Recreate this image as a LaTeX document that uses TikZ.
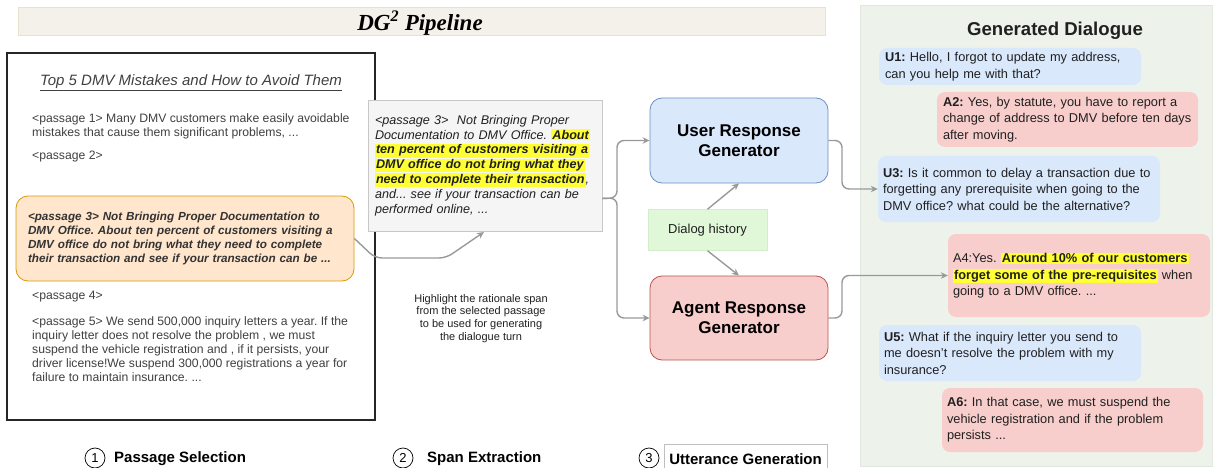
\documentclass[tikz,border=0pt]{standalone}
\usepackage{fontspec}
\setmainfont{Liberation Sans}
\newfontfamily\serifbi{Liberation Serif}
\usetikzlibrary{arrows.meta,calc,shadows}
\definecolor{txtgray}{HTML}{404040}
\definecolor{dtxt}{HTML}{202020}
\definecolor{arrgray}{HTML}{999999}
\definecolor{ublue}{HTML}{DAE8FC}
\definecolor{ubord}{HTML}{6C8EBF}
\definecolor{apink}{HTML}{F8CECC}
\definecolor{abord}{HTML}{B85450}
\definecolor{ofill}{HTML}{FFE6CC}
\definecolor{obord}{HTML}{D79B00}
\definecolor{sfill}{HTML}{F5F5F5}
\definecolor{sbord}{HTML}{C8C8C8}
\definecolor{hfill}{HTML}{E1F8D8}
\definecolor{hbord}{HTML}{D2EEC8}
\definecolor{pfill}{HTML}{EDF3EB}
\definecolor{pbord}{HTML}{E2E8E0}
\definecolor{tfill}{HTML}{F4F1EA}
\definecolor{tbord}{HTML}{EAE2CA}
\definecolor{hlyellow}{HTML}{FFFF33}
\newcommand\hlbox[1]{{\setlength{\fboxsep}{1pt}\colorbox{hlyellow}{#1}}}
\frenchspacing
\tikzset{
  passtxt/.style={anchor=north west, align=left, inner sep=0pt, text=txtgray, font=\fontsize{12.2}{14}\selectfont},
  arr/.style={draw=arrgray, line width=1.4pt, -{Stealth[length=7pt,width=6.5pt]}, rounded corners=7pt},
  bubbleU/.style={fill=ublue, rounded corners=8pt, align=left, inner xsep=6pt, inner ysep=0pt, font=\fontsize{12.8}{16.5}\selectfont, text=dtxt},
  bubbleA/.style={bubbleU, fill=apink},
  gen/.style={rounded corners=12pt, line width=0.8pt, align=center, inner sep=0pt, font=\bfseries\fontsize{17}{20}\selectfont, text=black},
  stepnum/.style={circle, draw=black, line width=0.7pt, minimum size=20pt, inner sep=0pt, font=\fontsize{13}{13}\selectfont},
  steplbl/.style={anchor=west, inner sep=0pt, font=\bfseries\fontsize{15}{15}\selectfont, text=black},
}
\begin{document}
\begin{tikzpicture}[x=1pt,y=-1pt]
\useasboundingbox (0,0) rectangle (1213,468);

% title bar
\node[fill=tfill, draw=tbord, line width=0.8pt, minimum width=807pt, minimum height=28pt,
      drop shadow={opacity=0.18, shadow xshift=1pt, shadow yshift=-1.5pt}] (title) at (421.5,21) {};
\node[inner sep=0pt, font=\serifbi\bfseries\itshape\fontsize{23}{26}\selectfont] (titletxt) at (420,23) {DG\textsuperscript{2} Pipeline};

% right panel
\node[fill=pfill, draw=pbord, line width=0.6pt, minimum width=352pt, minimum height=461pt] (panel) at (1036.5,236) {};
\node[inner sep=0pt, font=\bfseries\fontsize{18.6}{20}\selectfont, text=dtxt] (gdtitle) at (1055,31) {Generated Dialogue};

% document box
\node[draw=black!85, line width=2pt, minimum width=368pt, minimum height=367pt] (doc) at (191,236.5) {};
\node[inner sep=0pt, text=txtgray, font=\itshape\fontsize{15}{16}\selectfont] (doctitle) at (191,83) {\underline{Top 5 DMV Mistakes and How to Avoid Them}};
\node[passtxt] (pass1) at (32,113) {<passage 1> Many DMV customers make easily avoidable\\mistakes that cause them significant problems, ...};
\node[passtxt] (pass2) at (32,151) {<passage 2>};
\node[fill=ofill, draw=obord, line width=0.8pt, rounded corners=12pt, minimum height=85pt,
      text width=320pt, inner xsep=9pt, inner ysep=0pt, align=left, text=black!80,
      font=\bfseries\itshape\fontsize{11.7}{14}\selectfont] (p3) at (185,238.5)
  {\hspace*{3pt}<passage 3> Not Bringing Proper Documentation to\\\hspace*{3pt}DMV Office. About ten percent of customers visiting a\\\hspace*{3pt}DMV office do not bring what they need to complete\\\hspace*{3pt}their transaction and see if your transaction can be ...};
\node[passtxt] (pass4) at (32,291) {<passage 4>};
\node[passtxt] (pass5) at (32,316) {<passage 5> We send 500,000 inquiry letters a year. If the\\inquiry letter does not resolve the problem , we must\\suspend the vehicle registration and , if it persists, your\\driver license!We suspend 300,000 registrations a year for\\failure to maintain insurance. ...};

% span box
\node[fill=sfill, draw=sbord, line width=0.8pt, minimum height=131pt, text width=220pt,
      inner xsep=7pt, inner ysep=0pt, align=left, text=dtxt,
      font=\itshape\fontsize{12.6}{14.8}\selectfont] (span) at (485,165.5)
  {<passage 3>~ Not Bringing Proper\\
   Documentation to DMV Office. \hlbox{\bfseries About}\\
   \hlbox{\bfseries ten percent of customers visiting a}\\
   \hlbox{\bfseries DMV office do not bring what they}\\
   \hlbox{\bfseries need to complete their transaction},\\
   and... see if your transaction can be\\
   performed online, ...};
\node[inner sep=0pt, align=center, text=dtxt, font=\fontsize{11}{12.8}\selectfont] (hint) at (481,318.5)
  {Highlight the rationale span\\from the selected passage\\to be used for generating\\the dialogue turn};

% generators
\node[gen, fill=ublue, draw=ubord, minimum width=178pt, minimum height=85pt] (user) at (739,140.5) {User Response\\Generator};
\node[gen, fill=apink, draw=abord, minimum width=178pt, minimum height=84pt] (agent) at (739,318) {Agent Response\\Generator};
\node[fill=hfill, draw=hbord, line width=0.5pt, minimum width=119pt, minimum height=41pt, inner sep=0pt,
      text=dtxt, font=\fontsize{13}{14}\selectfont] (hist) at (707.5,230) {Dialog history};

% dialogue bubbles
\node[bubbleU, minimum height=37pt, text width=250pt] (u1) at (1010,66.5)
  {\textbf{U1:} Hello, I forgot to update my address,\\can you help me with that?};
\node[bubbleA, minimum height=55pt, text width=249pt] (a2) at (1067.5,119.5)
  {\textbf{A2:} Yes, by statute, you have to report a\\change of address to DMV before ten days\\after moving.};
\node[bubbleU, minimum height=66pt, inner xsep=5pt, text width=272pt] (u3) at (1019,189)
  {\textbf{U3:} Is it common to delay a transaction due to\\forgetting any prerequisite when going to the\\DMV office? what could be the alternative?};
\node[bubbleA, minimum height=83pt, inner xsep=5pt, text width=252pt] (a4) at (1079,275.5)
  {A4:Yes. \hlbox{\bfseries Around 10\% of our customers}\\\hlbox{\bfseries forget some of the pre-requisites} when\\going to a DMV office. ...};
\node[bubbleU, minimum height=56pt, inner xsep=5pt, text width=252pt] (u5) at (1010,353)
  {\textbf{U5:} What if the inquiry letter you send to\\me doesn't resolve the problem with my\\insurance?};
\node[bubbleA, minimum height=64pt, inner xsep=5pt, text width=251pt] (a6) at (1072.5,420)
  {\textbf{A6:} In that case, we must suspend the\\vehicle registration and if the problem\\persists ...};

% connectors
\coordinate (c1) at (375,258);
\coordinate (c2) at (446,258);
\coordinate (spanin) at (484,232);
\draw[arr] (p3.east) -- (c1) -- (c2) -- (spanin);

\coordinate (spanout) at ($(span.south east)!0.25!(span.north east)$);
\coordinate (fork) at (617,198);
\draw[arr] (spanout) -- (fork) -- (fork |- user.west) -- (user.west);
\draw[arr] (spanout) -- (fork) -- (fork |- agent.west) -- (agent.west);

\draw[arr, rounded corners=0pt] (hist.north) -- (user.south);
\draw[arr, rounded corners=0pt] (hist.south) -- (agent.north);

\coordinate (k1) at (842,140.5);
\draw[arr] (user.east) -- (k1) -- (k1 |- u3.west) -- (u3.west);
\coordinate (k2) at (842,318);
\draw[arr] (agent.east) -- (k2) -- (k2 |- a4.west) -- (a4.west);

% bottom step labels
\node[stepnum] (n1) at (95,458) {1};
\node[steplbl] (s1) at (114,459) {Passage Selection};
\node[stepnum] (n2) at (403,458) {2};
\node[steplbl] (s2) at (427,459) {Span Extraction};
\node[stepnum] (n3) at (649,458) {3};
\node[draw=black!25, line width=0.6pt, anchor=west, minimum height=30pt, inner xsep=5pt, inner ysep=0pt,
      font=\bfseries\fontsize{15}{15}\selectfont] (s3) at (664,459.5) {Utterance Generation};
\end{tikzpicture}
\end{document}
